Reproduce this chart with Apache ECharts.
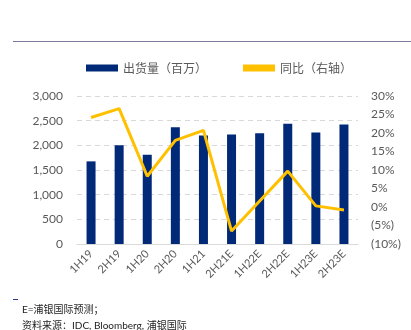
<!DOCTYPE html>
<html><head><meta charset="utf-8">
<script src="https://cdn.jsdelivr.net/npm/echarts@6/dist/echarts.min.js"></script>
<style>html,body{margin:0;padding:0;background:#fff}#c{width:411px;height:330px}</style>
</head><body><div id="c"></div>
<script>
var categories = ['1H19','2H19','1H20','2H20','1H21','2H21E','1H22E','2H22E','1H23E','2H23E'];
var shipments = [1675, 2000, 1810, 2367, 2198, 2218, 2245, 2437, 2259, 2422];
var yoy = [24.2, 26.6, 8.3, 18.0, 20.7, -6.5, 1.6, 9.7, 0.3, -0.8];
var leftTicks = {min: 0, max: 3000, interval: 500};
var rightTicks = {min: -10, max: 30, interval: 5};
var seriesNames = ['出货量（百万）', '同比（右轴）'];
var noteLines = ['E=浦银国际预测；', '资料来源：IDC, Bloomberg, 浦银国际'];

var font = 'Lato, "Noto Sans CJK SC", sans-serif';
var chart = echarts.init(document.getElementById('c'), null, {renderer: 'canvas'});
chart.setOption({
  animation: false,
  textStyle: {fontFamily: font},
  legend: {
    top: 57, left: 81, itemGap: 36, itemWidth: 32, itemHeight: 7,
    textStyle: {color: '#595959', fontSize: 12, fontFamily: '"Noto Sans CJK SC", sans-serif'},
    data: [{name: seriesNames[0], icon: 'rect'}, {name: seriesNames[1], icon: 'rect'}]
  },
  grid: {left: 77, right: 53, top: 96, bottom: 86, containLabel: false},
  xAxis: {
    type: 'category', data: categories,
    axisLine: {lineStyle: {color: '#d9d9d9'}},
    axisTick: {show: false},
    axisLabel: {rotate: 45, color: '#595959', fontSize: 11, margin: 8, interval: 0}
  },
  yAxis: [{
    type: 'value', min: leftTicks.min, max: leftTicks.max, interval: leftTicks.interval,
    axisLabel: {color: '#595959', fontSize: 12, margin: 14,
      formatter: function(v){ return v.toLocaleString('en-US'); }},
    splitLine: {lineStyle: {color: '#d9d9d9', type: [5, 4]}},
    axisLine: {show: false}, axisTick: {show: false}
  }, {
    type: 'value', min: rightTicks.min, max: rightTicks.max, interval: rightTicks.interval,
    position: 'right',
    axisLabel: {color: '#595959', fontSize: 12, margin: 13, align: 'left',
      formatter: function(v){ return v < 0 ? '(' + (-v) + '%)' : v + '%'; }},
    splitLine: {show: false}, axisLine: {show: false}, axisTick: {show: false}
  }],
  series: [{
    name: seriesNames[0], type: 'bar', data: shipments, barWidth: 9,
    itemStyle: {color: '#002A78'}
  }, {
    name: seriesNames[1], type: 'line', yAxisIndex: 1, data: yoy,
    symbol: 'none', lineStyle: {color: '#FFC000', width: 3}, itemStyle: {color: '#FFC000'}
  }],
  graphic: [
    {type: 'line', shape: {x1: 13, y1: 41.5, x2: 411, y2: 41.5}, style: {stroke: '#7d7a9b', lineWidth: 1}},
    {type: 'line', shape: {x1: 13, y1: 299.5, x2: 18, y2: 299.5}, style: {stroke: '#2b3a8c', lineWidth: 1}},
    {type: 'text', left: 22, top: 305, style: {text: noteLines[0], fill: '#222', fontSize: 10, fontFamily: font}},
    {type: 'text', left: 22, top: 321, style: {text: noteLines[1], fill: '#222', fontSize: 10, fontFamily: font}}
  ]
});
</script></body></html>
